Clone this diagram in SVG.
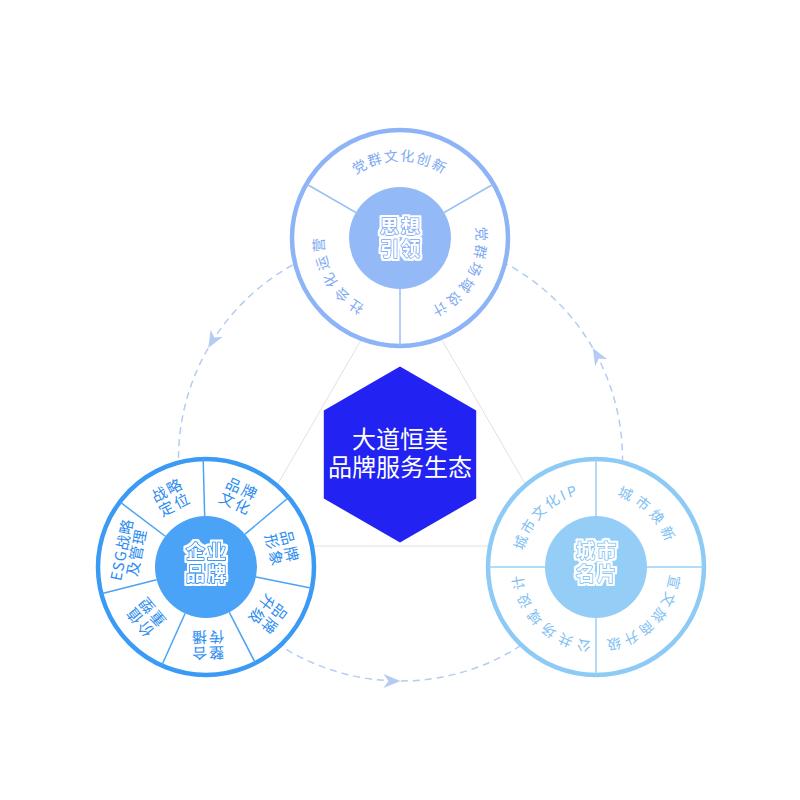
<svg xmlns="http://www.w3.org/2000/svg" width="800" height="800" viewBox="0 0 800 800">
<style>
.tri{fill:none;stroke:#e2e2e2;stroke-width:1}
.dash{fill:none;stroke:#b4ccf4;stroke-width:1.5;stroke-dasharray:7 5}
.arrow{fill:#b4ccf4}
.ring{fill:#fff;stroke-width:4.5}
.seg{font-family:"Noto Sans CJK SC","Noto Sans",sans-serif;font-size:14px;text-anchor:middle}
.seg2{font-family:"Noto Sans CJK SC","Noto Sans",sans-serif;font-size:15px;text-anchor:middle}
.hub{font-family:"Noto Sans CJK SC","Noto Sans",sans-serif;font-size:19px;font-weight:700;text-anchor:middle;letter-spacing:2px;fill:#fff;stroke-width:2;paint-order:stroke;stroke-linejoin:round;filter:url(#halo)}
.core{font-family:"Noto Sans CJK SC","Noto Sans",sans-serif;font-size:24px;fill:#fff;text-anchor:middle}
</style>
<defs>
<filter id="halo" x="-30%" y="-30%" width="160%" height="160%">
<feMorphology in="SourceAlpha" operator="dilate" radius="1.8" result="d"/>
<feFlood flood-color="#ffffff"/>
<feComposite in2="d" operator="in" result="w"/>
<feMerge><feMergeNode in="w"/><feMergeNode in="SourceGraphic"/></feMerge>
</filter>
<path id="arr" d="M0,0 L-17,-7 L-12,0 L-17,7 Z"/>
<path id="tp-t1" d="M323,238 A77,77 0 0 1 477,238"/>
<path id="tp-t2" d="M438.5,171.32 A77,77 0 0 1 361.5,304.68"/>
<path id="tp-t3" d="M438.5,304.68 A77,77 0 0 1 361.5,171.32"/>
<path id="tp-r1" d="M543.67,619.33 A74,74 0 0 1 648.33,514.67"/>
<path id="tp-r2" d="M543.67,514.67 A74,74 0 0 1 648.33,619.33"/>
<path id="tp-r3" d="M648.33,514.67 A74,74 0 0 1 543.67,619.33"/>
<path id="tp-r4" d="M648.33,619.33 A74,74 0 0 1 543.67,514.67"/>
</defs>

<g id="connectors">
<polygon class="tri" points="401.5,270 242,546 561,546"/>
<path class="dash" d="M303.18,259.47 A222,222 0 0 0 179.04,474.49"/>
<path class="dash" d="M276.36,643.04 A222,222 0 0 0 524.64,643.04"/>
<path class="dash" d="M621.96,474.49 A222,222 0 0 0 497.82,259.47"/>
<use href="#arr" class="arrow" transform="translate(208.24,348) rotate(120)"/>
<use href="#arr" class="arrow" transform="translate(400.5,681) rotate(0)"/>
<use href="#arr" class="arrow" transform="translate(592.76,348) rotate(-120)"/>
</g>

<g id="node-sixiang">
<circle cx="400" cy="238" r="108" class="ring" stroke="#8cb4f6"/>
<g stroke="#9dbff7" stroke-width="1.5">
<line x1="355.83" y1="212.5" x2="306.47" y2="184"/>
<line x1="444.17" y1="212.5" x2="493.53" y2="184"/>
<line x1="400" y1="289" x2="400" y2="346"/>
</g>
<circle cx="400" cy="238" r="51" fill="#93b9f6"/>
<text class="seg" fill="#7da9f2" letter-spacing="1.6"><textPath href="#tp-t1" startOffset="50%">党群文化创新</textPath></text>
<text class="seg" fill="#7da9f2" letter-spacing="3"><textPath href="#tp-t2" startOffset="50%">党群场域设计</textPath></text>
<text class="seg" fill="#7da9f2" letter-spacing="3.5"><textPath href="#tp-t3" startOffset="50%">社会化运营</textPath></text>
<text class="hub" stroke="#8cb4f6" x="401" y="234">思想</text>
<text class="hub" stroke="#8cb4f6" x="401" y="256">引领</text>
</g>

<g id="node-qiye">
<circle cx="206" cy="567" r="108" class="ring" stroke="#3a9af4"/>
<g stroke="#4aa3f6" stroke-width="1.5">
<line x1="204.66" y1="516.02" x2="203.17" y2="459.04"/>
<line x1="245.03" y1="534.17" x2="288.64" y2="497.47"/>
<line x1="256" y1="577.05" x2="311.88" y2="588.28"/>
<line x1="229.32" y1="612.35" x2="255.39" y2="663.04"/>
<line x1="185.09" y1="613.51" x2="161.71" y2="665.5"/>
<line x1="156.59" y1="579.65" x2="101.37" y2="593.78"/>
<line x1="165.32" y1="536.25" x2="119.85" y2="501.88"/>
</g>
<circle cx="206" cy="567" r="51" fill="#4aa3f6"/>
<g class="seg2" fill="#2b8cf0" letter-spacing="2">
<g transform="translate(206,567) rotate(-27.21)"><text x="1" y="-80.5">战略</text><text x="1" y="-64.5">定位</text></g>
<g transform="translate(206,567) rotate(24.21)"><text x="1" y="-80.5">品牌</text><text x="1" y="-64.5">文化</text></g>
<g transform="translate(206,567) rotate(75.64)"><text x="1" y="-80.5">品牌</text><text x="1" y="-64.5">形象</text></g>
<g transform="translate(206,567) rotate(127.07)"><text x="1" y="-80.5">品牌</text><text x="1" y="-64.5">升级</text></g>
<g transform="translate(206,567) rotate(178.5)"><text x="1" y="-80.5">整合</text><text x="1" y="-64.5">传播</text></g>
<g transform="translate(206,567) rotate(229.93)"><text x="1" y="-80.5">价值</text><text x="1" y="-64.5">重塑</text></g>
<g transform="translate(206,567) rotate(281.36)"><text x="0.5" y="-80.5" letter-spacing="1">ESG战略</text><text x="0.5" y="-65.5" letter-spacing="1">及管理</text></g>
</g>
<text class="hub" stroke="#3a9af4" x="207" y="558.5">企业</text>
<text class="hub" stroke="#3a9af4" x="207" y="580.5">品牌</text>
</g>

<g id="node-chengshi">
<circle cx="596" cy="567" r="108" class="ring" stroke="#8dcaf6"/>
<g stroke="#97cff7" stroke-width="1.5">
<line x1="596" y1="516" x2="596" y2="459"/>
<line x1="596" y1="618" x2="596" y2="675"/>
<line x1="545" y1="567" x2="488" y2="567"/>
<line x1="647" y1="567" x2="704" y2="567"/>
</g>
<circle cx="596" cy="567" r="51" fill="#94cef7"/>
<text class="seg" fill="#7ec0f3" letter-spacing="2.5"><textPath href="#tp-r1" startOffset="50%">城市文化IP</textPath></text>
<text class="seg" fill="#7ec0f3" letter-spacing="4.5"><textPath href="#tp-r2" startOffset="50%">城市焕新</textPath></text>
<text class="seg" fill="#7ec0f3" letter-spacing="3"><textPath href="#tp-r3" startOffset="50%">宣文旅商升级</textPath></text>
<text class="seg" fill="#7ec0f3" letter-spacing="4"><textPath href="#tp-r4" startOffset="50%">公共场域设计</textPath></text>
<text class="hub" stroke="#8dcaf6" x="597" y="558">城市</text>
<text class="hub" stroke="#8dcaf6" x="597" y="581">名片</text>
</g>

<g id="node-center">
<polygon points="400,366.5 476.2,410.5 476.2,498.5 400,542.5 323.8,498.5 323.8,410.5" fill="#2222f2"/>
<text class="core" x="400" y="448">大道恒美</text>
<text class="core" x="400" y="476">品牌服务生态</text>
</g>
</svg>
